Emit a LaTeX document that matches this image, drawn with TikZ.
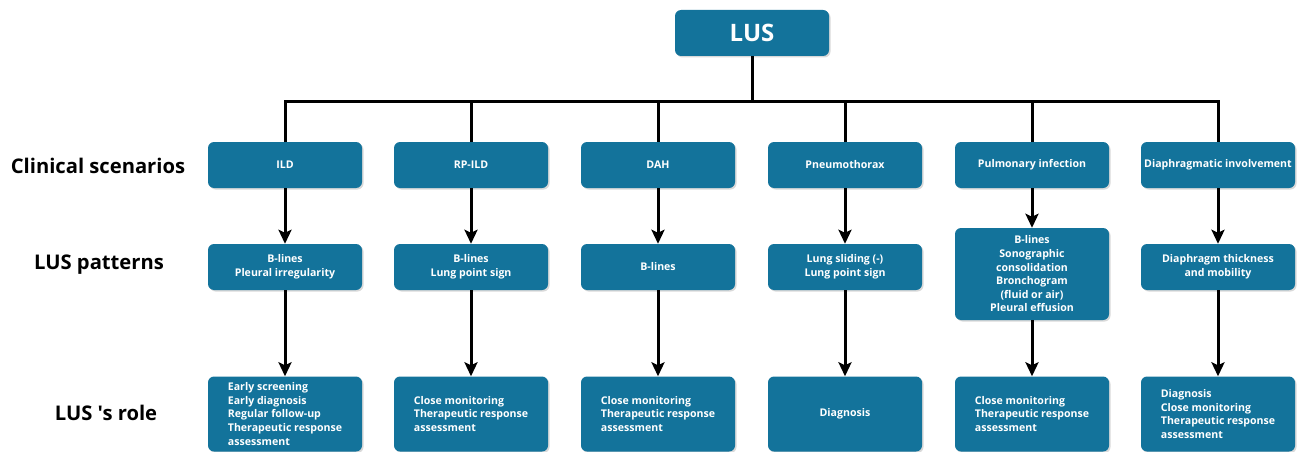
\documentclass[tikz,border=0pt]{standalone}
\usepackage{fontspec}
\setmainfont{Open Sans}[Ligatures=TeXOff]
\usetikzlibrary{arrows.meta,shadows}
\definecolor{lusblue}{HTML}{13739B}
\tikzset{
  box/.style={fill=lusblue,rounded corners=6pt,text=white,align=center,
    font=\bfseries\fontsize{10.6}{13.6}\selectfont,inner sep=1pt,
    minimum width=154pt,minimum height=46pt,
    drop shadow={opacity=0.3,shadow xshift=1.5pt,shadow yshift=-1.5pt}},
  rowlabel/.style={font=\bfseries\fontsize{20.2}{23}\selectfont},
  link/.style={line width=3pt},
  arrowlink/.style={line width=3pt,-{Stealth[length=14pt,width=13pt,inset=3pt]}}
}

\begin{document}
\begin{tikzpicture}[x=1pt,y=-1pt]
    \useasboundingbox (0,0) rectangle (1304,452);
    % root
    \node[box,font=\bfseries\fontsize{24}{27}\selectfont] (lus) at (752,33) {LUS};
    \coordinate (bus) at (752,101);
    % row labels
    \node[rowlabel] (scen) at (98,166) {Clinical scenarios};
    \node[rowlabel] (patt) at (99,265) {LUS patterns};
    \node[rowlabel] (role) at (106,413) {LUS 's role};
    % clinical scenarios
    \node[box] (ild) at (285,165) {ILD};
    \node[box] (rpild) at (471,165) {RP-ILD};
    \node[box] (dah) at (658,165) {DAH};
    \node[box] (ptx) at (845,165) {Pneumothorax};
    \node[box] (inf) at (1032,165) {Pulmonary infection};
    \node[box] (dia) at (1218,165) {Diaphragmatic involvement};
    % patterns
    \node[box] (ildp) at (285,267) {B-lines\\Pleural irregularity};
    \node[box] (rpildp) at (471,267) {B-lines\\Lung point sign};
    \node[box] (dahp) at (658,267) {B-lines};
    \node[box] (ptxp) at (845,267) {Lung sliding (-)\\Lung point sign};
    \node[box,minimum height=92pt] (infp) at (1032,274) {B-lines\\Sonographic\\consolidation\\Bronchogram\\(fluid or air)\\Pleural effusion};
    \node[box] (diap) at (1218,267) {Diaphragm thickness\\and mobility};
    % roles
    \node[box,align=left,minimum height=75pt] (ildr) at (285,414) {Early screening\\Early diagnosis\\Regular follow-up\\Therapeutic response\\assessment};
    \node[box,align=left,minimum height=75pt] (rpildr) at (471,414) {Close monitoring\\Therapeutic response\\assessment};
    \node[box,align=left,minimum height=75pt] (dahr) at (658,414) {Close monitoring\\Therapeutic response\\assessment};
    \node[box,minimum height=75pt] (ptxr) at (845,414) {Diagnosis};
    \node[box,align=left,minimum height=75pt] (infr) at (1032,414) {Close monitoring\\Therapeutic response\\assessment};
    \node[box,align=left,minimum height=75pt] (diar) at (1218,414) {Diagnosis\\Close monitoring\\Therapeutic response\\assessment};
    % tree
    \draw[link] (lus) -- (bus);
    \draw[link] (ild.north) |- (bus);
    \draw[link] (rpild.north) |- (bus);
    \draw[link] (dah.north) |- (bus);
    \draw[link] (ptx.north) |- (bus);
    \draw[link] (inf.north) |- (bus);
    \draw[link] (dia.north) |- (bus);
    % arrows
    \draw[arrowlink] (ild) -- (ildp);
    \draw[arrowlink] (rpild) -- (rpildp);
    \draw[arrowlink] (dah) -- (dahp);
    \draw[arrowlink] (ptx) -- (ptxp);
    \draw[arrowlink] (inf) -- (infp);
    \draw[arrowlink] (dia) -- (diap);
    \draw[arrowlink] (ildp) -- (ildr);
    \draw[arrowlink] (rpildp) -- (rpildr);
    \draw[arrowlink] (dahp) -- (dahr);
    \draw[arrowlink] (ptxp) -- (ptxr);
    \draw[arrowlink] (infp) -- (infr);
    \draw[arrowlink] (diap) -- (diar);
\end{tikzpicture}
\end{document}
